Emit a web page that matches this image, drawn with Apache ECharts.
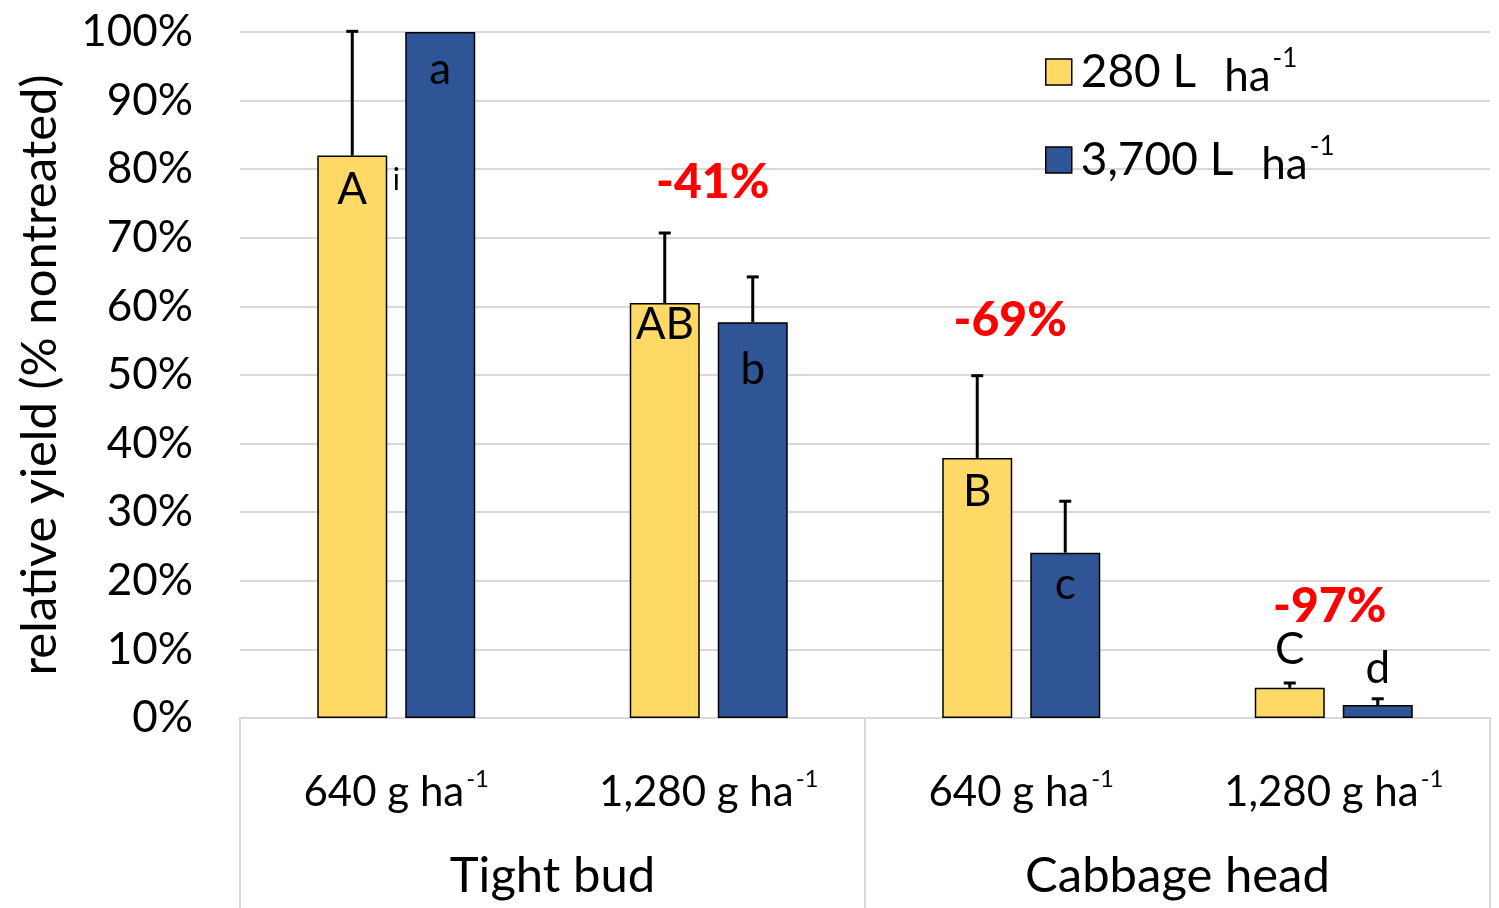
<!DOCTYPE html>
<html>
<head>
<meta charset="utf-8">
<script src="https://cdn.jsdelivr.net/npm/echarts@6/dist/echarts.min.js"></script>
<style>html,body{margin:0;padding:0;background:#fff}#c{width:1499px;height:908px}</style>
</head>
<body>
<div id="c"></div>
<script>
// ---- data ----
const doses = ['640 g ha', '1,280 g ha', '640 g ha', '1,280 g ha'];
const stages = ['Tight bud', 'Cabbage head'];
const seriesNames = ['280 L', '3,700 L'];
const yellowVals = [82, 60.5, 37.9, 4.4];
const blueVals = [100, 57.7, 24.1, 1.9];
const yellowErr = [18.1, 10.2, 12.0, 0.7];
const blueErr = [0, 6.6, 7.5, 0.9];
const yellowLetters = ['A', 'AB', 'B', 'C'];
const blueLetters = ['a', 'b', 'c', 'd'];
const reductionLabels = ['-41%', '-69%', '-97%'];
const reductionCats = [1, 2, 3];
const reductionY = [78, 58, 16.2];
const yTicks = [0, 10, 20, 30, 40, 50, 60, 70, 80, 90, 100];

const FONT = 'Lato';
const BAR_W = 70, BAR_GAP = 18;
const yellow = '#FFD966', blue = '#2F5597';

// label layout per bar (style)
const yLabelPos = [{p:'insideTop',d:12},{p:'insideTop',d:0},{p:'insideTop',d:12},{p:'top',d:16}];
const bLabelPos = [{p:'insideTop',d:16},{p:'insideTop',d:26},{p:'insideTop',d:10},{p:'top',d:14}];
const redOffsets = [[4, 0], [-11, 0], [-4, 0]];

function barData(vals, letters, pos) {
  return vals.map((v, i) => ({
    value: v,
    label: {show: true, formatter: letters[i], position: pos[i].p, distance: pos[i].d,
            fontFamily: FONT, fontSize: 44, color: '#000'}
  }));
}

function errSeries(vals, errs, sign) {
  return {
    type: 'custom',
    z: 1,
    silent: true,
    xAxisIndex: 0,
    data: vals.map((v, i) => [i, v, v + errs[i]]),
    renderItem: function (params, api) {
      const i = api.value(0);
      const lo = api.coord([i, api.value(1)]);
      const hi = api.coord([i, api.value(2)]);
      if (api.value(2) - api.value(1) <= 0) return null;
      const x = lo[0] + sign * (BAR_W + BAR_GAP) / 2;
      const style = {stroke: '#000', lineWidth: 3};
      return {
        type: 'group',
        children: [
          {type: 'line', shape: {x1: x, y1: lo[1], x2: x, y2: hi[1]}, style: style},
          {type: 'line', shape: {x1: x - 6, y1: hi[1], x2: x + 6, y2: hi[1]}, style: style}
        ]
      };
    }
  };
}

const chart = echarts.init(document.getElementById('c'), null, {renderer: 'canvas'});
const richX = {
  n: {fontFamily: FONT, fontSize: 42, color: '#000', lineHeight: 50},
  s: {fontFamily: FONT, fontSize: 24, color: '#000', verticalAlign: 'top', lineHeight: 50, padding: [0,0,20,2]}
};
chart.setOption({
  animation: false,
  textStyle: {fontFamily: FONT},
  grid: {left: 240, right: 9, top: 32, bottom: 190},
  legend: {
    orient: 'vertical', left: 1040, top: 40,
    itemWidth: 26, itemHeight: 26, itemGap: 34,
    icon: 'rect',
    data: seriesNames,
    formatter: function (name) { return '{a|' + name + '}{b|ha}{s|-1}'; },
    textStyle: {
      rich: {
        a: {fontFamily: FONT, fontSize: 46, color: '#000', lineHeight: 52, padding: [0,0,0,4]},
        b: {fontFamily: FONT, fontSize: 44, color: '#000', lineHeight: 52, padding: [10,0,0,28]},
        s: {fontFamily: FONT, fontSize: 26, color: '#000', verticalAlign: 'top', lineHeight: 52, padding: [0,0,22,2]}
      }
    },
    itemStyle: {borderColor: '#000', borderWidth: 1.5}
  },
  xAxis: [
    {
      type: 'category', data: doses, position: 'bottom',
      axisLine: {show: true, lineStyle: {color: '#d9d9d9', width: 2}},
      axisTick: {show: false},
      axisLabel: {margin: 49, formatter: v => '{n|' + v + '}{s|-1}', rich: richX}
    },
    {
      type: 'category', data: stages, position: 'bottom', gridIndex: 0,
      axisLine: {show: false},
      axisTick: {show: true, length: 190, lineStyle: {color: '#d9d9d9', width: 2}},
      axisLabel: {margin: 134, fontFamily: FONT, fontSize: 49, color: '#000'}
    }
  ],
  yAxis: {
    type: 'value', min: 0, max: 100, interval: 10,
    name: 'relative yield (% nontreated)', nameLocation: 'middle', nameGap: 175,
    nameTextStyle: {fontFamily: FONT, fontSize: 49, color: '#000'},
    axisLine: {show: false}, axisTick: {show: false},
    axisLabel: {formatter: v => yTicks.includes(v) ? v + '%' : '', fontFamily: FONT, fontSize: 44, color: '#000', margin: 47},
    splitLine: {lineStyle: {color: '#d9d9d9', width: 2}}
  },
  series: [
    {
      name: seriesNames[0], type: 'bar', xAxisIndex: 0, barWidth: BAR_W, barGap: (BAR_GAP / BAR_W * 100) + '%',
      itemStyle: {color: yellow, borderColor: '#000', borderWidth: 1.5},
      data: barData(yellowVals, yellowLetters, yLabelPos), z: 2
    },
    {
      name: seriesNames[1], type: 'bar', xAxisIndex: 0, barWidth: BAR_W,
      itemStyle: {color: blue, borderColor: '#000', borderWidth: 1.5},
      data: barData(blueVals, blueLetters, bLabelPos), z: 2
    },
    errSeries(yellowVals, yellowErr, -1),
    errSeries(blueVals, blueErr, 1),
    {
      type: 'scatter', xAxisIndex: 0, symbolSize: 0, silent: true, z: 5,
      itemStyle: {opacity: 1},
      data: reductionCats.map((c, i) => ({value: [c, reductionY[i]], label: {formatter: reductionLabels[i], offset: redOffsets[i]}})),
      label: {show: true, position: 'inside', fontFamily: FONT, fontSize: 48, fontWeight: 900, color: '#FF0000', opacity: 1}
    },
    {
      type: 'scatter', xAxisIndex: 0, symbolSize: 0, silent: true,
      itemStyle: {opacity: 1},
      data: [[0, 78.4]],
      label: {show: true, position: 'inside', formatter: 'i', fontFamily: FONT, fontSize: 30, color: '#000'}
    }
  ]
});
</script>
</body>
</html>
